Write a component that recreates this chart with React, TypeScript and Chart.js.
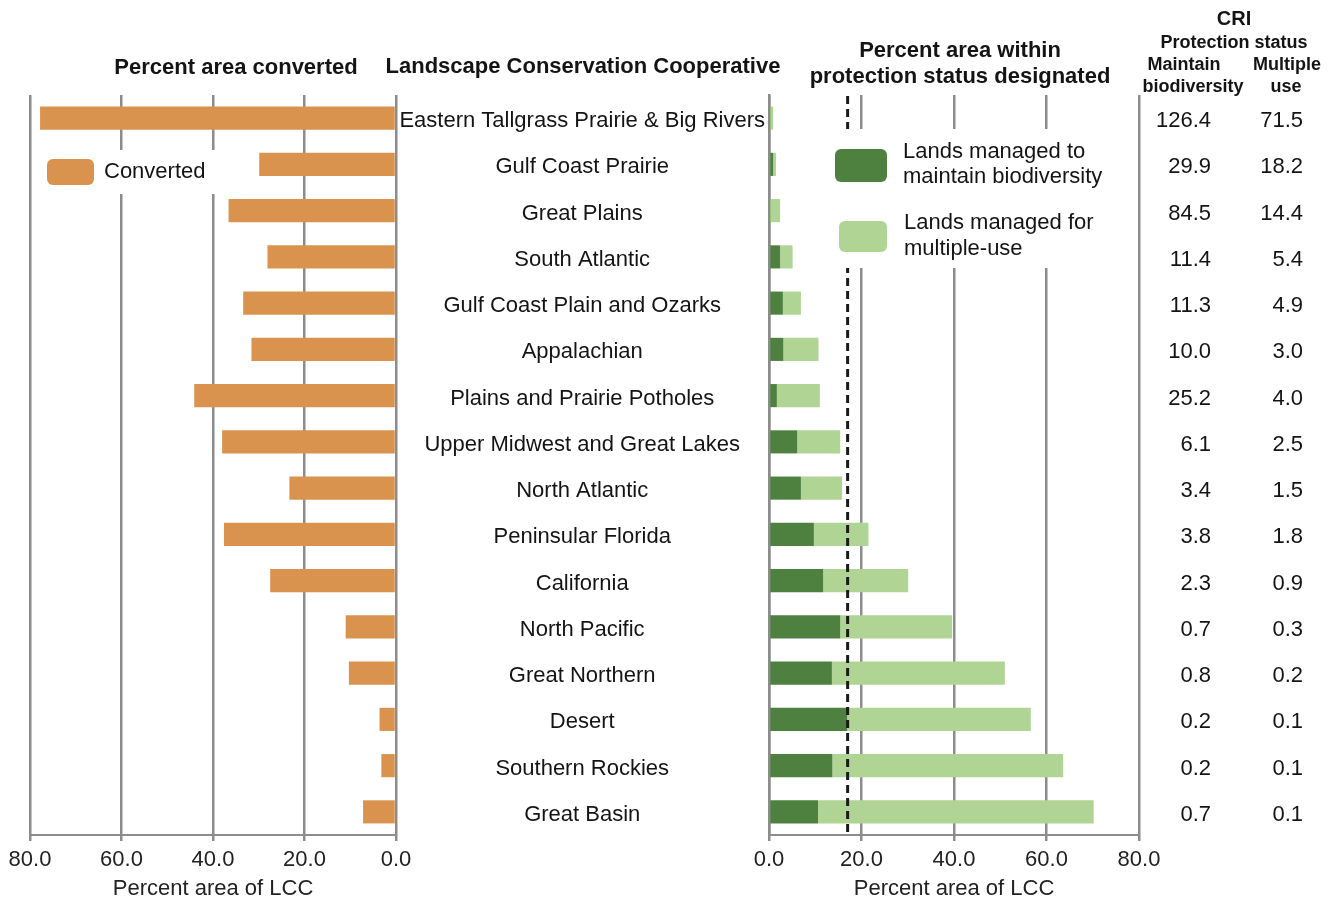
import React, { useEffect, useRef } from "react";
import { Chart, registerables } from "chart.js";

Chart.register(...registerables);

// ---------- DATA ----------
const categories = [
  "Eastern Tallgrass Prairie & Big Rivers",
  "Gulf Coast Prairie",
  "Great Plains",
  "South Atlantic",
  "Gulf Coast Plain and Ozarks",
  "Appalachian",
  "Plains and Prairie Potholes",
  "Upper Midwest and Great Lakes",
  "North Atlantic",
  "Peninsular Florida",
  "California",
  "North Pacific",
  "Great Northern",
  "Desert",
  "Southern Rockies",
  "Great Basin",
];

const converted = [77.8, 29.9, 36.6, 28.1, 33.4, 31.6, 44.1, 38.0, 23.3, 37.6, 27.5, 11.0, 10.3, 3.6, 3.2, 7.2];
const maintainBiodiversity = [0.1, 0.9, 0.2, 2.4, 3.0, 3.1, 1.7, 6.1, 6.9, 9.7, 11.7, 15.4, 13.6, 16.9, 13.7, 10.6];
const multipleUse = [0.8, 0.6, 2.2, 2.7, 3.9, 7.6, 9.3, 9.3, 8.9, 11.8, 18.4, 24.2, 37.4, 39.7, 49.9, 59.6];

const criMaintain = ["126.4", "29.9", "84.5", "11.4", "11.3", "10.0", "25.2", "6.1", "3.4", "3.8", "2.3", "0.7", "0.8", "0.2", "0.2", "0.7"];
const criMultiple = ["71.5", "18.2", "14.4", "5.4", "4.9", "3.0", "4.0", "2.5", "1.5", "1.8", "0.9", "0.3", "0.2", "0.1", "0.1", "0.1"];

const axisMin = 0;
const axisMax = 80;
const axisStep = 20;
const protectionTarget = 17;

// ---------- STYLE ----------
const FONT = "'Liberation Sans', Arial, Helvetica, sans-serif";
const ORANGE = "#D9934F";
const DARK_GREEN = "#4E8040";
const LIGHT_GREEN = "#AFD494";
const GRID = "#8c8c8c";
const TEXT = "#141414";

const LEFT_W = 420;
const RIGHT_X = 370;
const RIGHT_W = 1331 - RIGHT_X;
const H = 903;

const leftDecor = {
  id: "leftDecor",
  beforeDatasetsDraw(chart: any) {
    const ctx = chart.ctx;
    ctx.save();
    ctx.fillStyle = "#ffffff";
    ctx.fillRect(36, 150, 180, 44);
    ctx.fillStyle = ORANGE;
    ctx.beginPath();
    ctx.roundRect(47, 159, 47, 26, 6);
    ctx.fill();
    ctx.fillStyle = TEXT;
    ctx.font = `22px ${FONT}`;
    ctx.textAlign = "left";
    ctx.textBaseline = "middle";
    ctx.fillText("Converted", 104, 172);
    ctx.font = `bold 22px ${FONT}`;
    ctx.textAlign = "center";
    ctx.fillText("Percent area converted", 236, 68);
    ctx.restore();
  },
};

const rightDecor = {
  id: "rightDecor",
  afterDatasetsDraw(chart: any) {
    const { ctx, chartArea } = chart;
    const xs = chart.scales.x;
    const ys = chart.scales.y;
    const OX = RIGHT_X;
    ctx.save();
    // dashed reference line
    const px = xs.getPixelForValue(protectionTarget);
    ctx.strokeStyle = "#1a1a1a";
    ctx.lineWidth = 3;
    ctx.setLineDash([8, 5]);
    ctx.beginPath();
    ctx.moveTo(px, chartArea.top + 1);
    ctx.lineTo(px, chartArea.bottom);
    ctx.stroke();
    ctx.setLineDash([]);

    // legend
    ctx.fillStyle = "#ffffff";
    ctx.fillRect(830 - OX, 129, 280, 139);
    ctx.fillStyle = DARK_GREEN;
    ctx.beginPath();
    ctx.roundRect(835 - OX, 149, 52, 33, 6);
    ctx.fill();
    ctx.fillStyle = LIGHT_GREEN;
    ctx.beginPath();
    ctx.roundRect(839 - OX, 221, 48, 31, 6);
    ctx.fill();
    ctx.fillStyle = TEXT;
    ctx.font = `22px ${FONT}`;
    ctx.textAlign = "left";
    ctx.textBaseline = "middle";
    ctx.fillText("Lands managed to", 903 - OX, 152);
    ctx.fillText("maintain biodiversity", 903 - OX, 177);
    ctx.fillText("Lands managed for", 904 - OX, 223);
    ctx.fillText("multiple-use", 904 - OX, 249);

    // headers
    ctx.textAlign = "center";
    ctx.font = `bold 22px ${FONT}`;
    ctx.fillText("Landscape Conservation Cooperative", 583 - OX, 67);
    ctx.fillText("Percent area within", 960 - OX, 51);
    ctx.fillText("protection status designated", 960 - OX, 77);
    ctx.font = `bold 20px ${FONT}`;
    ctx.fillText("CRI", 1234 - OX, 19);
    ctx.font = `bold 18px ${FONT}`;
    ctx.fillText("Protection status", 1234 - OX, 43);
    ctx.fillText("Maintain", 1184 - OX, 65);
    ctx.fillText("biodiversity", 1193 - OX, 87);
    ctx.fillText("Multiple", 1287 - OX, 65);
    ctx.fillText("use", 1286 - OX, 87);

    // CRI values (right-aligned columns)
    ctx.font = `22px ${FONT}`;
    ctx.textAlign = "right";
    for (let i = 0; i < categories.length; i++) {
      const y = ys.getPixelForValue(i) + 3;
      ctx.fillText(criMaintain[i], 1211 - OX, y);
      ctx.fillText(criMultiple[i], 1303 - OX, y);
    }
    ctx.restore();
  },
};

function xAxis(reverse: boolean) {
  return {
    type: "linear" as const,
    min: axisMin,
    max: axisMax,
    reverse,
    stacked: true,
    ticks: {
      stepSize: axisStep,
      color: "#222",
      font: { family: FONT, size: 22 },
      padding: 6,
      callback: (v: any) => Number(v).toFixed(1),
    },
    grid: {
      color: GRID,
      lineWidth: 2.5,
      drawTicks: true,
      tickLength: 6,
      tickColor: GRID,
    },
    border: { display: true, color: GRID, width: 2 },
    title: {
      display: true,
      text: "Percent area of LCC",
      color: "#222",
      font: { family: FONT, size: 22 },
      padding: { top: 0, bottom: 1 },
    },
    afterFit: (scale: any) => {
      scale.height = 68;
    },
  };
}

export default function App() {
  const leftRef = useRef<HTMLCanvasElement>(null);
  const rightRef = useRef<HTMLCanvasElement>(null);

  useEffect(() => {
    const left = new Chart(leftRef.current as HTMLCanvasElement, {
      type: "bar",
      data: {
        labels: categories,
        datasets: [
          {
            label: "Converted",
            data: converted,
            backgroundColor: ORANGE,
            barPercentage: 0.5,
            categoryPercentage: 1,
          },
        ],
      },
      options: {
        indexAxis: "y",
        animation: false,
        responsive: false,
        devicePixelRatio: 1,
        layout: { padding: { left: 30, right: LEFT_W - 396, top: 95, bottom: 0 } },
        plugins: { legend: { display: false }, tooltip: { enabled: false } },
        scales: {
          x: xAxis(true) as any,
          y: { type: "category", display: false },
        },
      },
      plugins: [leftDecor],
    });

    const right = new Chart(rightRef.current as HTMLCanvasElement, {
      type: "bar",
      data: {
        labels: categories,
        datasets: [
          {
            label: "Lands managed to maintain biodiversity",
            data: maintainBiodiversity,
            backgroundColor: DARK_GREEN,
            barPercentage: 0.5,
            categoryPercentage: 1,
          },
          {
            label: "Lands managed for multiple-use",
            data: multipleUse,
            backgroundColor: LIGHT_GREEN,
            barPercentage: 0.5,
            categoryPercentage: 1,
          },
        ],
      },
      options: {
        indexAxis: "y",
        animation: false,
        responsive: false,
        devicePixelRatio: 1,
        layout: { padding: { left: 0, right: RIGHT_W - (1139 - RIGHT_X), top: 95, bottom: 0 } },
        plugins: { legend: { display: false }, tooltip: { enabled: false } },
        scales: {
          x: xAxis(false) as any,
          y: {
            type: "category",
            stacked: true,
            grid: { display: false, drawTicks: false },
            border: { display: true, color: GRID, width: 2.5 },
            ticks: {
              autoSkip: false,
              crossAlign: "center",
              padding: 4,
              labelOffset: 3,
              color: TEXT,
              font: { family: FONT, size: 22 },
            },
            afterFit: (scale: any) => {
              scale.width = 769 - RIGHT_X;
            },
          } as any,
        },
      },
      plugins: [rightDecor],
    });

    return () => {
      left.destroy();
      right.destroy();
    };
  }, []);

  return (
    <div style={{ position: "absolute", left: 0, top: 0, width: 1331, height: H, background: "#fff", overflow: "hidden" }}>
      <canvas ref={leftRef} width={LEFT_W} height={H} style={{ position: "absolute", left: 0, top: 0 }} />
      <canvas ref={rightRef} width={RIGHT_W} height={H} style={{ position: "absolute", left: RIGHT_X, top: 0 }} />
    </div>
  );
}
